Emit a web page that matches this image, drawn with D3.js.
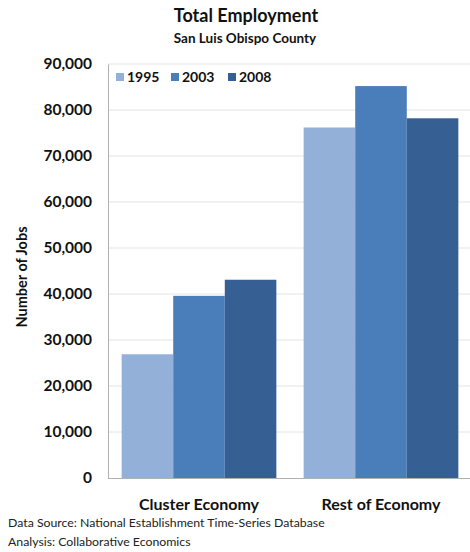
<!DOCTYPE html>
<html>
<head>
<meta charset="utf-8">
<script src="https://cdn.jsdelivr.net/npm/d3@7"></script>
<style>
  body { margin: 0; background: #fff; }
  text { font-family: Lato, "Open Sans", sans-serif; }
</style>
</head>
<body>
<div id="chart"></div>
<script>
// Chart data
const categories = ["Cluster Economy", "Rest of Economy"];
const years = ["1995", "2003", "2008"];
const jobs1995 = [26900, 76200];
const jobs2003 = [39600, 85200];
const jobs2008 = [43100, 78200];
const yTicks = [0, 10000, 20000, 30000, 40000, 50000, 60000, 70000, 80000, 90000];

const width = 470;
const height = 552;
const margin = {top: 64, right: -2, bottom: 74, left: 108};

const series = [jobs1995, jobs2003, jobs2008];
const rows = categories.map((c, i) => ({
    category: c,
    values: years.map((y, j) => ({year: y, value: series[j][i]}))
}));

const color = d3.scaleOrdinal()
    .domain(years)
    .range(["#93b1d8", "#4a7ebb", "#365f93"]);

const svg = d3.select("#chart").append("svg")
    .attr("width", width)
    .attr("height", height);

const x0 = d3.scaleBand()
    .domain(categories)
    .range([margin.left, width - margin.right])
    .paddingInner(0.15)
    .paddingOuter(0.075);

const x1 = d3.scaleBand()
    .domain(years)
    .range([0, x0.bandwidth()]);

const y = d3.scaleLinear()
    .domain([0, 90000])
    .range([height - margin.bottom, margin.top]);

// gridlines
svg.append("g")
    .selectAll("line")
    .data(yTicks.filter(d => d > 0))
    .join("line")
    .attr("x1", margin.left)
    .attr("x2", width)
    .attr("y1", d => y(d))
    .attr("y2", d => y(d))
    .attr("stroke", "#e4e4e4")
    .attr("stroke-width", 1);

// bars
svg.append("g")
    .selectAll("g")
    .data(rows)
    .join("g")
    .attr("transform", d => `translate(${x0(d.category)},0)`)
    .selectAll("rect")
    .data(d => d.values)
    .join("rect")
    .attr("x", d => x1(d.year))
    .attr("width", x1.bandwidth())
    .attr("y", d => y(d.value))
    .attr("height", d => y(0) - y(d.value))
    .attr("fill", d => color(d.year));

// y axis
const yAxis = svg.append("g")
    .attr("transform", `translate(${margin.left},0)`)
    .call(d3.axisLeft(y).tickValues(yTicks).tickFormat(d3.format(",")).tickSize(0).tickPadding(16));
yAxis.select(".domain").attr("stroke", "#b0b0b0");
yAxis.selectAll("text")
    .attr("font-size", 15.5)
    .attr("font-weight", "bold")
    .attr("fill", "#111")
    .style("font-family", "Lato, sans-serif");

// x axis
const xAxis = svg.append("g")
    .attr("transform", `translate(0,${y(0)})`)
    .call(d3.axisBottom(x0).tickSize(0).tickPadding(21));
xAxis.select(".domain").attr("stroke", "#b0b0b0").attr("d", `M${margin.left},0.5H${width}`);
xAxis.selectAll("text")
    .attr("font-size", 16)
    .attr("font-weight", "bold")
    .attr("fill", "#111")
    .style("font-family", "Lato, sans-serif");

// titles
svg.append("text")
    .attr("x", 246).attr("y", 22)
    .attr("text-anchor", "middle")
    .attr("font-size", 18).attr("font-weight", "bold")
    .attr("fill", "#111")
    .text("Total Employment");
svg.append("text")
    .attr("x", 245).attr("y", 43)
    .attr("text-anchor", "middle")
    .attr("font-size", 13.5).attr("font-weight", "bold")
    .attr("fill", "#111")
    .text("San Luis Obispo County");

// y label
svg.append("text")
    .attr("transform", `translate(27,${y(45000) + 6}) rotate(-90)`)
    .attr("text-anchor", "middle")
    .attr("font-size", 14.5).attr("font-weight", "bold")
    .attr("fill", "#111")
    .text("Number of Jobs");

// legend
const legendX = [116, 171, 228];
const legend = svg.append("g")
    .selectAll("g")
    .data(years)
    .join("g")
    .attr("transform", (d, i) => `translate(${legendX[i]},77)`);
legend.append("rect")
    .attr("x", 0).attr("y", -4)
    .attr("width", 8).attr("height", 8)
    .attr("fill", d => color(d));
legend.append("text")
    .attr("x", 11).attr("y", 5)
    .attr("font-size", 14).attr("font-weight", "bold")
    .attr("fill", "#111")
    .text(d => d);

// source notes
svg.append("text")
    .attr("x", 8).attr("y", 527)
    .attr("font-size", 12.3)
    .attr("fill", "#222")
    .text("Data Source: National Establishment  Time-Series Database");
svg.append("text")
    .attr("x", 8).attr("y", 546)
    .attr("font-size", 12.3)
    .attr("fill", "#222")
    .text("Analysis:  Collaborative Economics");
</script>
</body>
</html>
